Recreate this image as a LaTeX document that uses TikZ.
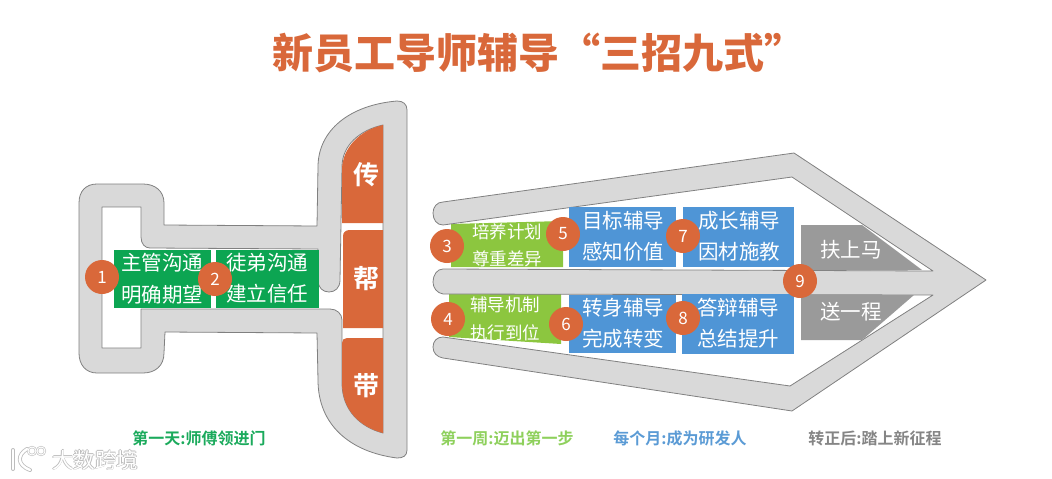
\documentclass[tikz,border=0pt]{standalone}
\usepackage{fontspec}
\setmainfont{Noto Sans CJK SC}
\newfontfamily\cjkb{Noto Sans CJK SC Bold}
\newfontfamily\cjkk{Noto Sans CJK SC Black}
\definecolor{armgray}{HTML}{D9D9D9}
\definecolor{armline}{HTML}{808080}
\definecolor{orng}{HTML}{D9683A}
\definecolor{grn}{HTML}{0CA552}
\definecolor{lime}{HTML}{8CC63F}
\definecolor{blu}{HTML}{4F95D6}
\definecolor{gry}{HTML}{9A9A9A}
\definecolor{capgrn}{HTML}{1BAA5C}
\definecolor{caplime}{HTML}{8ED05C}
\definecolor{capblu}{HTML}{5B9BD5}
\definecolor{capgry}{HTML}{858585}
\definecolor{markedge}{HTML}{BDBDBD}
\tikzset{
 armshape/.style={fill=armgray,draw=armline,line width=0.8pt,line join=round},
 inshape/.style={fill=white,draw=armline,line width=0.8pt,line join=round},
 badge/.style={circle,fill=orng,minimum size=34pt,inner sep=0pt,text=white,font=\fontsize{17}{17}\selectfont},
 boxtext/.style={text=white,inner sep=0pt,font=\fontsize{20.5}{20.5}\selectfont},
 smalltext/.style={text=white,inner sep=0pt,font=\fontsize{17.5}{17.5}\selectfont},
 bigchar/.style={text=white,inner sep=0pt,font=\cjkb\fontsize{26}{26}\selectfont},
 caption/.style={inner sep=0pt,font=\cjkb\fontsize{16}{16}\selectfont},
 markfont/.style={inner sep=0pt,font=\fontsize{21.5}{21.5}\selectfont},
}
\begin{document}
\begin{tikzpicture}[x=1pt,y=-1pt]
\useasboundingbox (0,0) rectangle (1052,479);
% left shape
\draw[armshape] (397,101) .. controls (403,101) and (407,104) .. (407,110)
 -- (407,450) .. controls (407,456) and (403,458) .. (397,458)
 .. controls (350,452) and (318,425) .. (318,380)
 -- (317,333) -- (165,332) -- (164,353)
 .. controls (164,366) and (155,373) .. (143,373) -- (97,373)
 .. controls (86,373) and (79,365) .. (79,353) -- (79,203)
 .. controls (79,191) and (86,184) .. (97,184) -- (143,184)
 .. controls (155,184) and (164,191) .. (164,203) -- (164,225)
 -- (317,226) -- (318,167)
 .. controls (318,130) and (350,105) .. (397,101) -- cycle;
\draw[inshape] (102,207) -- (141,207) -- (141,237)
 .. controls (141,244) and (145,248) .. (150,248) -- (318,249) -- (318,280)
 .. controls (318,288) and (323,292) .. (329,292)
 .. controls (335,292) and (340,288) .. (340,280) -- (342,167)
 .. controls (342,145) and (360,130) .. (383,125) -- (383,433)
 .. controls (360,427) and (342,410) .. (342,383) -- (342,320)
 .. controls (342,314) and (337,309) .. (330,309) -- (141,309) -- (141,348) -- (102,348) -- cycle;
\fill[orng] (342,223) -- (342,170) .. controls (342,148) and (360,130) .. (383,125) -- (383,223) -- cycle;
\fill[orng] (343,328) -- (343,236) .. controls (343,232) and (346,230) .. (350,230) -- (383,230) -- (383,328) -- cycle;
\fill[orng] (342,343) .. controls (342,340) and (344,338) .. (347,338) -- (383,338) -- (383,433) .. controls (360,427) and (342,410) .. (342,383) -- cycle;
\node[bigchar] (chuan) at (366,175) {传};
\node[bigchar] (bang) at (366,279) {帮};
\node[bigchar] (dai) at (366,386) {带};
\fill[grn] (114,250) rectangle (211,308);
\fill[grn] (216,250) rectangle (319,308);
\node[boxtext] (a1) at (162,263) {主管沟通};
\node[boxtext] (a2) at (162,295) {明确期望};
\node[boxtext] (a3) at (267,263) {徒弟沟通};
\node[boxtext] (a4) at (267,294) {建立信任};
\node[badge] (n1) at (102,277) {1};
\node[badge] (n2) at (215,279) {2};
% right shapes beneath arrow
\fill[lime] (451,224) -- (563,221) -- (563,267) -- (451,267) -- cycle;
\fill[lime] (449,294) -- (561,294) -- (561,344) -- (449,337) -- cycle;
% arrow
\draw[armshape] (443,202) -- (794,153) -- (986,280) -- (792,411) -- (443,358)
 .. controls (437,357) and (433,353) .. (433,347)
 .. controls (433,341) and (437,337) .. (443,337)
 -- (790,386) -- (933,295) -- (443,294)
 .. controls (437,293) and (433,288) .. (433,282)
 .. controls (433,275) and (437,269) .. (443,269)
 -- (933,271) -- (792,177) -- (443,225)
 .. controls (437,225) and (433,220) .. (433,213)
 .. controls (433,207) and (437,202) .. (443,202) -- cycle;
\fill[blu] (569,207) rectangle (676,267);
\fill[blu] (683,207) rectangle (794,267);
\fill[blu] (569,295) rectangle (676,353);
\fill[blu] (682,294) rectangle (794,354);
\fill[gry] (801,225) -- (862,225) -- (922,270) -- (801,270) -- cycle;
\fill[gry] (801,295) -- (914,295) -- (862,340) -- (801,340) -- cycle;
\node[smalltext] (b1) at (507,232) {培养计划};
\node[smalltext] (b2) at (507,259) {尊重差异};
\node[smalltext] (b3) at (505,305) {辅导机制};
\node[smalltext] (b4) at (505,333) {执行到位};
\node[boxtext] (c1) at (623,221) {目标辅导};
\node[boxtext] (c2) at (623,252) {感知价值};
\node[boxtext] (c3) at (739,221) {成长辅导};
\node[boxtext] (c4) at (739,252) {因材施教};
\node[boxtext] (c5) at (623,308) {转身辅导};
\node[boxtext] (c6) at (623,339) {完成转变};
\node[boxtext] (c7) at (738,308) {答辩辅导};
\node[boxtext] (c8) at (738,339) {总结提升};
\node[boxtext] (d1) at (851,250) {扶上马};
\node[boxtext] (d2) at (851,312) {送一程};
\node[badge] (n3) at (447,246) {3};
\node[badge] (n4) at (448,319) {4};
\node[badge] (n5) at (563,234) {5};
\node[badge] (n6) at (566,324) {6};
\node[badge] (n7) at (683,236) {7};
\node[badge] (n8) at (683,318) {8};
\node[badge] (n9) at (800,281) {9};
% title and captions
\node[inner sep=0pt,text=orng,font=\cjkk\fontsize{41}{41}\selectfont] (title) at (538.5,53) {新员工导师辅导“三招九式”};
\node[caption,text=capgrn] (e1) at (199,438) {第一天:师傅领进门};
\node[caption,text=caplime] (e2) at (507,438) {第一周:迈出第一步};
\node[caption,text=capblu] (e3) at (680,438) {每个月:成为研发人};
\node[caption,text=capgry] (e4) at (875,438) {转正后:踏上新征程};
% watermark
\foreach \ox/\oy in {-0.8/0,0.8/0,0/-0.8,0/0.8}{
 \node[markfont,text=markedge] at (95+\ox,460+\oy) {大数跨境};
}
\node[markfont,text=white] (w) at (95,460) {大数跨境};
\draw[markedge,line width=4pt,line cap=round] (13,450) -- (13,469);
\draw[markedge,line width=4pt,line cap=round] (27,449) .. controls (17,455) and (17,465) .. (30,470);
\draw[markedge,line width=2.2pt] (32,451) circle (4);
\draw[markedge,line width=2.2pt] (41,451) circle (4);
\draw[white,line width=2.4pt,line cap=round] (13,450) -- (13,469);
\draw[white,line width=2.4pt,line cap=round] (27,449) .. controls (17,455) and (17,465) .. (30,470);
\draw[white,line width=1pt] (32,451) circle (4);
\draw[white,line width=1pt] (41,451) circle (4);
\end{tikzpicture}
\end{document}
